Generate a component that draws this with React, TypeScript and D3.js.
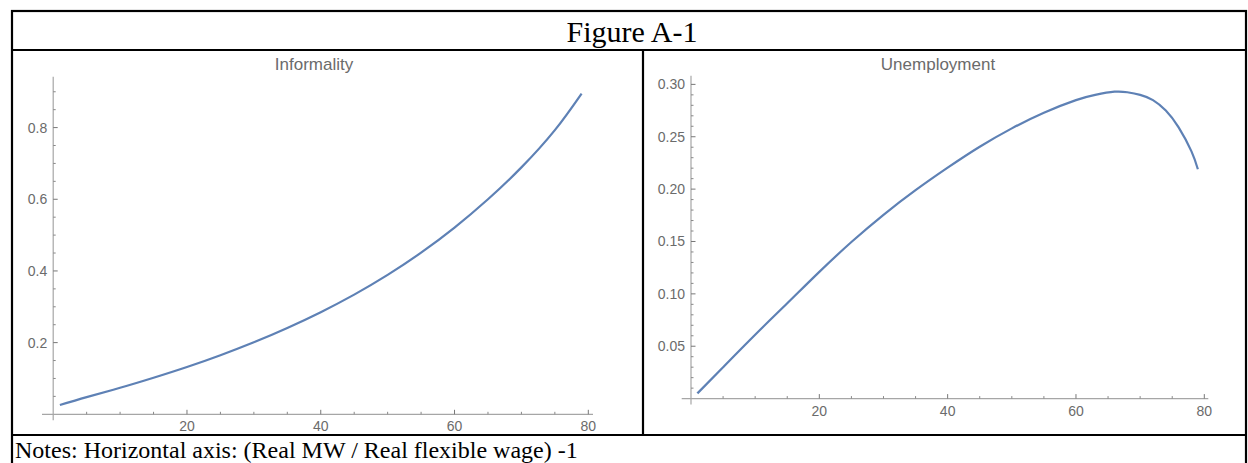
import * as d3 from 'd3';

// Informality panel
const informX = [1, 5, 10, 15, 20, 25, 30, 35, 40, 45, 50, 55, 60, 65, 70, 75, 79];
const informY = [0.026, 0.048, 0.074, 0.102, 0.132, 0.165, 0.201, 0.241, 0.285, 0.334, 0.389, 0.451, 0.521, 0.6, 0.689, 0.793, 0.895];

// Unemployment panel
const unempX = [1, 5, 10, 15, 20, 25, 30, 35, 40, 45, 50, 55, 60, 63, 66, 68, 70, 72, 74, 76, 78, 79];
const unempY = [0.005, 0.03, 0.061, 0.091, 0.121, 0.1495, 0.1755, 0.199, 0.2205, 0.2405, 0.258, 0.273, 0.285, 0.29, 0.293, 0.2925, 0.29, 0.285, 0.275, 0.259, 0.236, 0.219];

const xTicks = [20, 40, 60, 80];
const informTicks = [0.2, 0.4, 0.6, 0.8];
const unempTicks = [0.05, 0.1, 0.15, 0.2, 0.25, 0.3];

const figureTitle = 'Figure A-1';
const notes = 'Notes: Horizontal axis: (Real MW / Real flexible wage) -1';

const lineColor = '#5E81B5';
const axisColor = '#a6a6a6';
const textColor = '#6b6b6b';
const sans = '"Liberation Sans", Arial, sans-serif';
const serif = '"Liberation Serif", "Times New Roman", serif';

type PanelProps = {
  title: string;
  titleX: number;
  xs: number[];
  ys: number[];
  x: d3.ScaleLinear<number, number>;
  y: d3.ScaleLinear<number, number>;
  yTicks: number[];
  yMinorStep: number;
  yFmt: (d: number) => string;
  xAxisStart: number;
  xAxisEnd: number;
  yAxisTop: number;
};

function Panel(p: PanelProps) {
  const { x, y } = p;
  const x0 = x(0);
  const y0 = y(0);
  const pts = p.xs.map((d, i) => [d, p.ys[i]] as [number, number]);
  const line = d3.line<[number, number]>()
    .x(d => x(d[0]))
    .y(d => y(d[1]))
    .curve(d3.curveNatural);

  const xMinor = d3.range(5, 81, 5).filter(v => v % 20 !== 0);
  const yMax = y.domain()[1];
  const yMinor = d3.range(p.yMinorStep, yMax, p.yMinorStep)
    .filter(v => !p.yTicks.some(t => Math.abs(t - v) < 1e-6));

  return (
    <g>
      <text x={p.titleX} y={70} textAnchor="middle" fontFamily={sans} fontSize={17} fill={textColor}>{p.title}</text>
      {/* x axis */}
      <line x1={p.xAxisStart} x2={p.xAxisEnd} y1={y0} y2={y0} stroke={axisColor} strokeWidth={1.2} />
      {xTicks.map(t => (
        <g key={'xt' + t}>
          <line x1={x(t)} x2={x(t)} y1={y0} y2={y0 - 4.5} stroke="#777" strokeWidth={1} />
          <text x={x(t)} y={y0 + 17} textAnchor="middle" fontFamily={sans} fontSize={14} fill={textColor}>{t}</text>
        </g>
      ))}
      {xMinor.map(t => (
        <line key={'xm' + t} x1={x(t)} x2={x(t)} y1={y0} y2={y0 - 2.5} stroke="#888" strokeWidth={1} />
      ))}
      {/* y axis */}
      <line x1={x0} x2={x0} y1={p.yAxisTop} y2={y0 + 6} stroke={axisColor} strokeWidth={1.2} />
      {p.yTicks.map(t => (
        <g key={'yt' + t}>
          <line x1={x0} x2={x0 + 4.5} y1={y(t)} y2={y(t)} stroke="#777" strokeWidth={1} />
          <text x={x0 - 6} y={y(t) + 5} textAnchor="end" fontFamily={sans} fontSize={14} fill={textColor}>{p.yFmt(t)}</text>
        </g>
      ))}
      {yMinor.map(t => (
        <line key={'ym' + t} x1={x0} x2={x0 + 2.5} y1={y(t)} y2={y(t)} stroke="#888" strokeWidth={1} />
      ))}
      <path d={line(pts) ?? ''} fill="none" stroke={lineColor} strokeWidth={2.2} strokeLinecap="butt" />
    </g>
  );
}

export default function App() {
  const W = 1248;
  const H = 463;

  const xLeft = d3.scaleLinear().domain([0, 80]).range([53.2, 588.3]);
  const yLeft = d3.scaleLinear().domain([0, 0.942]).range([414.3, 76.7]);
  const xRight = d3.scaleLinear().domain([0, 80]).range([691, 1204.3]);
  const yRight = d3.scaleLinear().domain([0, 0.308]).range([398.6, 76]);

  return (
    <svg width={W} height={H} style={{ position: 'absolute', left: 0, top: 0, background: '#fff' }}>
      <rect x={0} y={0} width={W} height={H} fill="#fff" />
      {/* table frame */}
      <rect x={12} y={11} width={1234} height={480} fill="none" stroke="#000" strokeWidth={2.2} />
      <line x1={12} x2={1246} y1={50} y2={50} stroke="#000" strokeWidth={2.2} />
      <line x1={12} x2={1246} y1={435} y2={435} stroke="#000" strokeWidth={2.2} />
      <line x1={643} x2={643} y1={50} y2={435} stroke="#000" strokeWidth={2.2} />
      <text x={632} y={42} textAnchor="middle" fontFamily={serif} fontSize={30} fill="#000">{figureTitle}</text>
      <text x={15} y={458} fontFamily={serif} fontSize={24} fill="#000">{notes}</text>

      <Panel title="Informality" titleX={314} xs={informX} ys={informY} x={xLeft} y={yLeft}
        yTicks={informTicks} yMinorStep={0.05} yFmt={d => d.toFixed(1)}
        xAxisStart={42} xAxisEnd={593} yAxisTop={76.7} />
      <Panel title="Unemployment" titleX={938} xs={unempX} ys={unempY} x={xRight} y={yRight}
        yTicks={unempTicks} yMinorStep={0.01} yFmt={d => d.toFixed(2)}
        xAxisStart={681.7} xAxisEnd={1208.3} yAxisTop={75.7} />
    </svg>
  );
}
